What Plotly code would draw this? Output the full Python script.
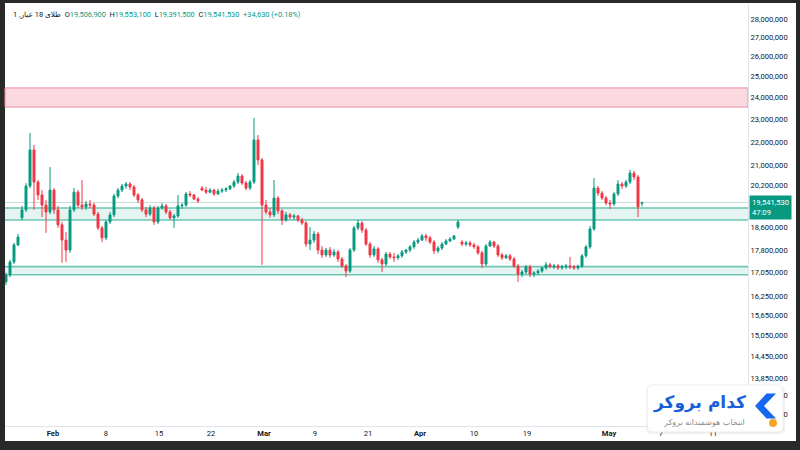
import math
import plotly.graph_objects as go

# ---------------- data (prices in millions of rials) ----------------
open_m = [16.72, 16.95, 17.39, 17.98, 18.96, 19.26, 20.18, 21.66, 20.34, 19.83,
          19.44, 19.18, 20.02, 19.26, 18.70, 18.15, 17.80, 19.26, 19.94, 19.44,
          19.37, 19.48, 19.44, 19.10, 18.59, 18.23, 18.81, 19.07, 19.79, 20.02,
          20.18, 20.26, 20.14, 19.83, 19.64, 19.26, 19.10, 19.33, 18.81, 19.33,
          19.41, 19.18, 18.96, 19.03, 19.41, 19.44, 19.87, 19.83, 19.67, 20.10,
          20.02, 19.94, 20.02, 19.87, 19.98, 20.02, 20.07, 20.18, 20.34, 20.58,
          20.30, 20.10, 20.34, 22.09, 21.24, 19.44, 19.18, 19.07, 19.71, 19.22,
          18.88, 19.07, 18.99, 19.03, 18.88, 18.77, 18.01, 18.15, 18.37, 17.80,
          17.63, 17.80, 17.63, 17.73, 17.49, 17.25, 17.08, 17.80, 18.59, 18.77,
          18.51, 18.01, 17.63, 17.84, 17.46, 17.32, 17.66, 17.56, 17.53, 17.60,
          17.73, 17.80, 17.91, 18.08, 18.15, 18.30, 18.23, 18.08, 17.77, 17.87,
          18.01, 18.12, 18.19, 18.62, 18.08, 18.01, 18.05, 17.98, 17.91, 17.70,
          17.32, 17.94, 18.08, 17.94, 17.63, 17.53, 17.60, 17.49, 17.25, 16.98,
          17.05, 17.22, 16.98, 17.02, 17.08, 17.19, 17.29, 17.22, 17.25, 17.19,
          17.22, 17.25, 17.22, 17.19, 17.25, 17.60, 17.91, 18.55, 20.10, 19.90,
          19.71, 19.52, 19.48, 19.87, 20.26, 20.18, 20.34, 20.70, 20.54, 19.5069]

high_m = [17.02, 17.46, 18.05, 18.37, 19.41, 20.30, 22.39, 21.87, 20.42, 20.02,
          19.64, 20.95, 20.10, 19.41, 18.81, 18.44, 19.41, 20.10, 20.02, 20.42,
          19.60, 19.64, 19.52, 19.18, 18.66, 18.88, 19.18, 19.87, 20.10, 20.26,
          20.34, 20.34, 20.22, 19.90, 19.71, 19.37, 19.44, 19.41, 19.41, 19.52,
          19.48, 19.26, 19.10, 19.83, 19.52, 19.94, 19.98, 19.87, 19.75, 20.18,
          20.14, 20.10, 20.07, 20.07, 20.10, 20.14, 20.22, 20.42, 20.70, 20.66,
          20.38, 20.42, 23.06, 22.30, 21.32, 19.64, 19.33, 20.42, 19.79, 19.29,
          19.18, 19.14, 19.10, 19.07, 18.96, 18.84, 18.62, 18.48, 18.44, 17.94,
          17.87, 17.91, 17.84, 17.80, 17.56, 17.32, 17.87, 18.66, 18.88, 18.84,
          18.59, 18.08, 17.94, 17.91, 17.53, 17.73, 17.73, 17.70, 17.66, 17.80,
          17.84, 17.98, 18.15, 18.23, 18.37, 18.37, 18.30, 18.15, 17.94, 18.08,
          18.19, 18.26, 18.33, 18.88, 18.15, 18.12, 18.12, 18.05, 17.98, 17.77,
          18.01, 18.15, 18.12, 18.01, 17.70, 17.66, 17.66, 17.56, 17.32, 17.12,
          17.29, 17.29, 17.08, 17.15, 17.22, 17.39, 17.36, 17.32, 17.32, 17.29,
          17.32, 17.56, 17.29, 17.29, 17.66, 17.98, 18.66, 20.50, 20.18, 19.98,
          19.79, 19.64, 19.94, 20.42, 20.34, 20.42, 20.83, 20.79, 20.62, 19.5531]

low_m = [16.62, 16.88, 17.32, 17.94, 18.88, 19.18, 20.10, 19.26, 19.64, 18.99,
         18.41, 19.10, 19.10, 18.59, 17.36, 17.39, 17.70, 19.18, 19.33, 19.26,
         19.26, 19.33, 19.03, 18.51, 18.08, 18.15, 18.73, 18.99, 19.71, 19.94,
         20.07, 20.02, 19.75, 19.52, 19.18, 18.99, 19.03, 18.70, 18.73, 19.26,
         19.10, 18.88, 18.59, 18.96, 19.29, 19.37, 19.75, 19.64, 19.52, 19.98,
         19.87, 19.90, 19.79, 19.83, 19.90, 19.94, 20.02, 20.10, 20.26, 20.22,
         20.02, 20.02, 20.26, 21.03, 17.29, 19.10, 18.96, 18.99, 19.10, 18.70,
         18.81, 18.92, 18.88, 18.81, 18.70, 17.91, 17.80, 18.05, 17.66, 17.53,
         17.56, 17.53, 17.56, 17.39, 17.19, 16.88, 17.02, 17.73, 18.51, 18.41,
         17.94, 17.53, 17.56, 17.36, 17.05, 17.25, 17.49, 17.39, 17.46, 17.53,
         17.66, 17.73, 17.84, 18.01, 18.12, 18.12, 18.01, 17.66, 17.70, 17.80,
         17.98, 18.08, 18.15, 18.55, 17.94, 17.94, 17.91, 17.84, 17.63, 17.19,
         17.25, 17.91, 17.87, 17.56, 17.46, 17.49, 17.42, 17.19, 16.72, 16.88,
         16.98, 16.88, 16.88, 16.95, 17.02, 17.12, 17.19, 17.15, 17.12, 17.12,
         17.15, 17.15, 17.12, 17.12, 17.19, 17.53, 17.84, 18.48, 19.79, 19.64,
         19.44, 19.29, 19.41, 19.79, 20.07, 20.10, 20.26, 20.42, 18.99, 19.3915]

close_m = [16.95, 17.39, 17.98, 18.26, 19.26, 20.18, 21.66, 20.34, 19.83, 19.44,
           19.18, 20.02, 19.26, 18.70, 18.15, 17.80, 19.26, 19.94, 19.44, 19.37,
           19.48, 19.44, 19.10, 18.59, 18.23, 18.81, 19.07, 19.79, 20.02, 20.18,
           20.26, 20.14, 19.83, 19.64, 19.26, 19.10, 19.33, 18.81, 19.33, 19.41,
           19.18, 18.96, 19.03, 19.41, 19.44, 19.87, 19.83, 19.67, 19.60, 20.02,
           19.94, 20.02, 19.87, 19.98, 20.02, 20.07, 20.18, 20.34, 20.58, 20.30,
           20.10, 20.34, 22.09, 21.24, 19.44, 19.18, 19.07, 19.71, 19.22, 18.88,
           19.07, 18.99, 19.03, 18.88, 18.77, 18.01, 18.15, 18.37, 17.80, 17.63,
           17.80, 17.63, 17.73, 17.49, 17.25, 17.08, 17.80, 18.59, 18.77, 18.51,
           18.01, 17.63, 17.84, 17.46, 17.32, 17.66, 17.56, 17.53, 17.60, 17.73,
           17.80, 17.91, 18.08, 18.15, 18.30, 18.23, 18.08, 17.77, 17.87, 18.01,
           18.12, 18.19, 18.30, 18.81, 18.01, 18.05, 17.98, 17.91, 17.70, 17.32,
           17.94, 18.08, 17.94, 17.63, 17.53, 17.60, 17.49, 17.25, 16.98, 17.05,
           17.22, 16.98, 17.02, 17.08, 17.19, 17.29, 17.22, 17.25, 17.19, 17.22,
           17.25, 17.22, 17.19, 17.25, 17.60, 17.91, 18.55, 20.10, 19.90, 19.71,
           19.52, 19.48, 19.87, 20.26, 20.18, 20.34, 20.70, 20.54, 19.37, 19.54153]

UNIT = 1_000_000
opens = [v * UNIT for v in open_m]
highs = [v * UNIT for v in high_m]
lows = [v * UNIT for v in low_m]
closes = [v * UNIT for v in close_m]
bar_index = list(range(len(close_m)))

# x-axis tick labels (positions in bar-index units)
x_tick_pos = [11.75, 25, 38.25, 51.25, 64.5, 77.25, 90.5, 103.5, 117, 130.25, 150.75, 163.75, 176.75]
x_tick_text = ["Feb", "8", "15", "22", "Mar", "9", "21", "Apr", "10", "19", "May", "7", "11"]
month_names = ["Feb", "Mar", "Apr", "May"]

# y-axis tick labels (log price scale)
y_tick_vals = [28_000_000, 27_000_000, 26_000_000, 25_000_000, 24_000_000, 23_000_000,
               22_000_000, 21_000_000, 20_200_000, 18_600_000, 17_800_000, 17_050_000,
               16_250_000, 15_650_000, 15_050_000, 14_450_000, 13_850_000, 13_400_000, 12_900_000]

# horizontal zones
resistance_zone = (23_560_000, 24_460_000)
upper_zone = (18_880_000, 19_330_000)
lower_zone = (16_960_000, 17_230_000)

last_open, last_high, last_low, last_close = 19_506_900, 19_553_100, 19_391_500, 19_541_530
change_abs, change_pct = 34_630, 0.18
countdown = "47:09"
symbol_name = "طلای 18 عیار"
interval = "1"
brand_title = "کدام بروکر"
brand_sub = "انتخاب هوشمندانه بروکر"

# ---------------- layout geometry (pixels) ----------------
W, H = 800, 450
PL, PR, PT, PB = 5, 748, 4, 426
pw, ph = PR - PL, PB - PT


def px(x):
    return (x - PL) / pw


def py(y):
    return (PB - y) / ph


UP = "#089981"
DOWN = "#F23645"
TXT = "#131722"

fig = go.Figure()
fig.add_trace(go.Candlestick(
    x=bar_index, open=opens, high=highs, low=lows, close=closes,
    increasing=dict(line=dict(color=UP, width=1), fillcolor=UP),
    decreasing=dict(line=dict(color=DOWN, width=1), fillcolor=DOWN),
    whiskerwidth=0, hoverinfo="skip", showlegend=False,
))

shapes = []
# white chart canvas inside dark frame
shapes.append(dict(type="rect", xref="paper", yref="paper", x0=px(5), x1=px(796), y0=py(441), y1=py(3),
                   fillcolor="white", line=dict(width=0), layer="below"))
# zones
shapes.append(dict(type="rect", xref="paper", yref="y", x0=0, x1=1,
                   y0=resistance_zone[0], y1=resistance_zone[1],
                   fillcolor="rgba(247,170,188,0.45)", line=dict(color="#f08aa0", width=1), layer="below"))
for z in (upper_zone, lower_zone):
    shapes.append(dict(type="rect", xref="paper", yref="y", x0=0, x1=1, y0=z[0], y1=z[1],
                       fillcolor="rgba(178,223,214,0.35)", line=dict(width=0), layer="below"))
    for v in z:
        shapes.append(dict(type="line", xref="paper", yref="y", x0=0, x1=1, y0=v, y1=v,
                           line=dict(color="#6cc6b3", width=1.6), layer="below"))
# last price line
shapes.append(dict(type="line", xref="paper", yref="y", x0=0, x1=1, y0=last_close, y1=last_close,
                   line=dict(color="#c9dcd8", width=1), layer="below"))


# logo card
def rrect(x0, y0, x1, y1, r):
    X0, X1 = px(x0), px(x1)
    Y0, Y1 = py(y0), py(y1)
    rx, ry = r / pw, r / ph
    return (f"M {X0+rx},{Y0} L {X1-rx},{Y0} Q {X1},{Y0} {X1},{Y0-ry} "
            f"L {X1},{Y1+ry} Q {X1},{Y1} {X1-rx},{Y1} L {X0+rx},{Y1} "
            f"Q {X0},{Y1} {X0},{Y1+ry} L {X0},{Y0-ry} Q {X0},{Y0} {X0+rx},{Y0} Z")


shapes.append(dict(type="path", xref="paper", yref="paper", path=rrect(646, 386, 785, 434, 6),
                   fillcolor="rgba(0,0,0,0.06)", line=dict(width=0), layer="above"))
shapes.append(dict(type="path", xref="paper", yref="paper", path=rrect(647, 385, 783, 432, 6),
                   fillcolor="white", line=dict(color="#ececec", width=1), layer="above"))
chev = [(766.5, 393.5), (776, 393.5), (764, 406), (776, 418.5), (766.5, 418.5), (755, 406)]
chev_path = "M " + " L ".join(f"{px(a)},{py(b)}" for a, b in chev) + " Z"
shapes.append(dict(type="path", xref="paper", yref="paper", path=chev_path,
                   fillcolor="#1668ee", line=dict(width=0), layer="above"))
shapes.append(dict(type="circle", xref="paper", yref="paper", x0=px(769), x1=px(777), y0=py(427), y1=py(419),
                   fillcolor="#f7a325", line=dict(width=0), layer="above"))

annotations = []
hdr = (f"<span style='color:{TXT}'>{interval} ,{symbol_name}</span>&nbsp;&nbsp;"
       f"<span style='color:{TXT}'>O</span><span style='color:{UP}'>{last_open:,}</span>&nbsp;&nbsp;"
       f"<span style='color:{TXT}'>H</span><span style='color:{UP}'>{last_high:,}</span>&nbsp;&nbsp;"
       f"<span style='color:{TXT}'>L</span><span style='color:{UP}'>{last_low:,}</span>&nbsp;&nbsp;"
       f"<span style='color:{TXT}'>C</span><span style='color:{UP}'>{last_close:,}</span>&nbsp;&nbsp;"
       f"<span style='color:{UP}'>+{change_abs:,} (+{change_pct:.2f}%)</span>")
annotations.append(dict(xref="paper", yref="paper", x=px(11), y=py(15), xanchor="left", yanchor="middle",
                        text=hdr, showarrow=False, font=dict(family="Roboto, DejaVu Sans", size=7.4)))
annotations.append(dict(xref="paper", yref="paper", x=px(749), y=py(207), xanchor="left", yanchor="middle",
                        text=f"{last_close:,}<br>{countdown}", showarrow=False, align="left",
                        bgcolor=UP, borderpad=2,
                        font=dict(family="Roboto", size=7.6, color="white")))
annotations.append(dict(xref="paper", yref="paper", x=px(748), y=py(402), xanchor="right", yanchor="middle",
                        text=f"<b>{brand_title}</b>", showarrow=False,
                        font=dict(family="DejaVu Sans", size=17, color="#1a5fd9")))
annotations.append(dict(xref="paper", yref="paper", x=px(747), y=py(422), xanchor="right", yanchor="middle",
                        text=brand_sub, showarrow=False,
                        font=dict(family="DejaVu Sans", size=8, color="#8a8a8a")))

tick_text_fmt = [f"<b>{t}</b>" if t in month_names else t for t in x_tick_text]

fig.update_layout(
    width=W, height=H,
    margin=dict(l=PL, r=W - PR, t=PT, b=H - PB),
    paper_bgcolor="#292929", plot_bgcolor="white",
    shapes=shapes, annotations=annotations,
    showlegend=False,
    font=dict(family="Roboto", color=TXT),
    xaxis=dict(range=[-0.25, 185.5], tickvals=x_tick_pos, ticktext=tick_text_fmt,
               showgrid=False, zeroline=False, showline=True, linecolor="#e0e3eb", linewidth=1,
               ticks="", tickfont=dict(size=7.6, color=TXT), rangeslider=dict(visible=False),
               fixedrange=True),
    yaxis=dict(type="log", side="right",
               range=[math.log10(28_000_000) - (PB - 19) / 1174.3, math.log10(28_000_000) + (19 - PT) / 1174.3],
               tickvals=y_tick_vals, ticktext=[f"{v:,}" for v in y_tick_vals],
               showgrid=False, zeroline=False, showline=True, linecolor="#e0e3eb", linewidth=1,
               ticks="", tickfont=dict(size=7.6, color=TXT), fixedrange=True),
)

fig.write_html("out.html")
